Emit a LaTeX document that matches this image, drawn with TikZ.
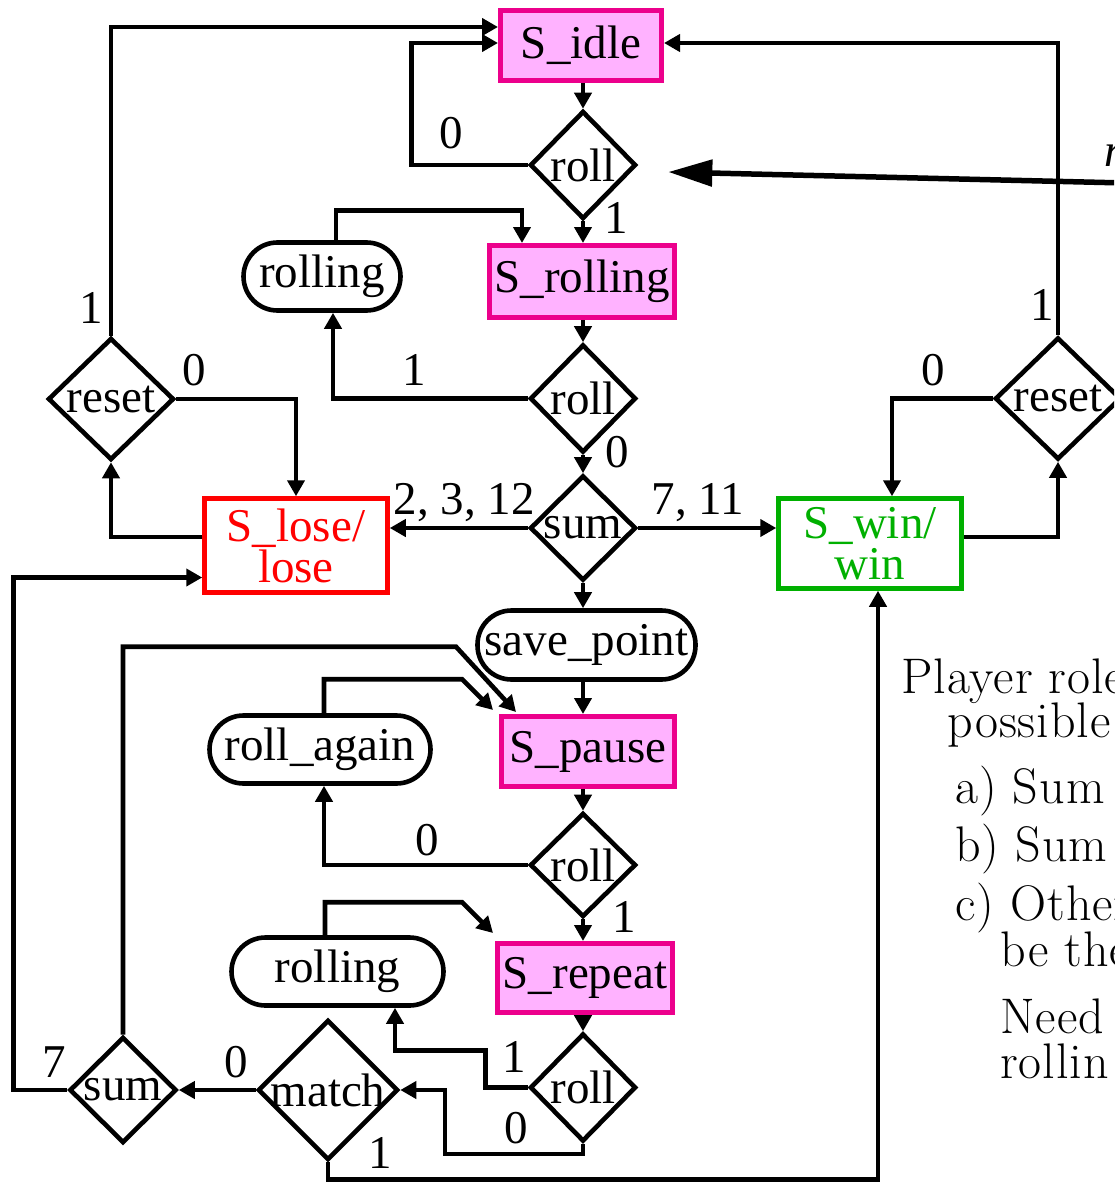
\documentclass[tikz,border=0pt]{standalone}
\usepackage{fontspec}
\setmainfont{Liberation Serif}
\newfontfamily\palfont[LetterSpace=2]{Latin Modern Roman}
\usetikzlibrary{arrows.meta,shapes.geometric,calc}
\definecolor{sgreen}{RGB}{0,176,0}
\definecolor{spink}{RGB}{255,178,255}
\tikzset{
  arr/.style={-{Triangle[length=16pt,width=17pt]}, line width=4.6pt},
  sbox/.style={draw=magenta, fill=spink, line width=5pt, inner sep=0pt, text=black},
  dia/.style={diamond, draw, line width=4.6pt, inner sep=0pt, minimum width=106pt, minimum height=108pt},
  oval/.style={draw, rounded corners=34pt, line width=4.6pt, inner sep=0pt, minimum height=68pt},
  lbl/.style={inner sep=0pt},
  rtext/.style={inner sep=0pt, anchor=base west, font={\palfont\fontsize{50}{50}\selectfont}},
}
\begin{document}
\begin{tikzpicture}[x=1pt,y=-1pt,font={\fontsize{47}{41}\selectfont}]
\useasboundingbox (0,0) rectangle (1114,1185);
\clip (0,0) rectangle (1114,1185);
\fill[white] (0,0) rectangle (1114,1185);

% states and decisions
\node[sbox, minimum width=161pt, minimum height=70pt] (idle) at (581,45.5) {S\_idle};
\node[dia] (r1) at (583,165) {\makebox[0pt]{roll}};
\node[sbox, minimum width=185pt, minimum height=72pt] (srol) at (582,281.5) {S\_rolling};
\node[oval, minimum width=157pt] (ov1) at (322,276.5) {rolling};
\node[dia] (r2) at (583,398.5) {\makebox[0pt]{roll}};
\node[dia, minimum width=126pt, minimum height=122pt] (rl) at (111,399) {\makebox[0pt]{reset}};
\node[dia, minimum width=126pt, minimum height=122pt] (rr) at (1058,398.5) {\makebox[0pt]{reset}};
\node[dia, minimum height=105pt] (s1) at (583,528) {\raisebox{-7pt}{\makebox[0pt]{sum}}};
\node[draw=red, text=red, line width=4.5pt, inner sep=0pt, minimum width=183pt, minimum height=94pt, align=center] (lose) at (296,545.5) {S\_lose/\\lose};
\node[draw=sgreen, text=sgreen, line width=4.5pt, inner sep=0pt, minimum width=183pt, minimum height=90pt, align=center] (win) at (870,543.5) {S\_win/\\win};
\node[oval, minimum width=218pt, minimum height=69pt] (sp) at (586.5,645) {save\_point};
\node[sbox, minimum width=173pt, minimum height=70pt] (pause) at (588,751.5) {S\_pause};
\node[oval, minimum width=221pt] (ra) at (320,749.5) {roll\_again};
\node[dia, minimum height=104pt] (r3) at (583,865) {\makebox[0pt]{roll}};
\node[sbox, minimum width=175pt, minimum height=69pt] (rep) at (585,978) {S\_repeat};
\node[oval, minimum width=212pt] (ov2) at (337.5,971.5) {rolling};
\node[dia] (r4) at (583,1087.5) {\makebox[0pt]{roll}};
\node[dia, minimum width=140pt, minimum height=140pt] (m) at (328,1090) {\makebox[0pt]{match}};
\node[dia, minimum width=107pt, minimum height=106pt] (s2) at (123,1090) {\makebox[0pt]{sum}};

% connectors
\draw[arr] (idle.south -| r1.north) -- (r1.north);
\draw[arr] (r1.west) -- ++(-116,0) |- ([yshift=2.5pt]idle.west);
\draw[arr] (r1.south) -- (r1.south |- srol.north);
\draw[arr] ([xshift=14pt]ov1.north) -- ++(0,-30) -| ([xshift=-60pt]srol.north);
\draw[arr] (srol.south -| r2.north) -- (r2.north);
\draw[arr] (r2.west) -| ([xshift=11pt]ov1.south);
\draw[arr] (r2.south) -- (s1.north);
\draw[arr] (s1.west) -- (s1.west -| lose.east);
\draw[arr] (s1.east) -- (s1.east -| win.west);
\draw[arr] (s1.south) -- (s1.south |- sp.north);
\draw[arr] (s1.south |- sp.south) -- (s1.south |- pause.north);
\draw[arr] (s1.south |- pause.south) -- (r3.north);
\draw[arr] (r3.west) -| ([xshift=4pt]ra.south);
\draw[arr] (r3.south) -- (r3.south |- rep.north);
\draw[arr] (r3.south |- rep.south) -- (r4.north);
\draw[arr] ([xshift=4pt]ra.north) -- ++(0,-34) -- ++(138,0) -- ([xshift=-6pt,yshift=4pt]pause.north west);
\draw[arr] (s2.north) -- ++(0,-388) -- ++(333,0) -- ([xshift=17pt,yshift=2pt]pause.north west);
\draw[arr] ([xshift=-12.5pt]ov2.north) -- ++(0,-33) -- ++(137,0) -- ([xshift=-2pt,yshift=8pt]rep.north west);
\draw[arr] (r4.west) -- ++(-42,0) -- ++(0,-37) -| ([xshift=57.5pt]ov2.south);
\draw[arr] (r4.south) -- ++(0,10) -- ++(-138,0) |- (m.east);
\draw[arr] (m.west) -- (s2.east);
\draw[arr] (m.south) -- ++(0,17) -| ([xshift=8pt]win.south);
\draw[arr] (s2.west) -- ++(-54,0) |- ([yshift=-32pt]lose.west);
\draw[arr] (rl.north) |- ([yshift=18.5pt]idle.west);
\draw[arr] (rl.east) -| (lose.north);
\draw[arr] ([yshift=8.5pt]lose.west) -| (rl.south);
\draw[arr] (rr.north) |- ([yshift=2.5pt]idle.east);
\draw[arr] (rr.west) -| ([xshift=22pt]win.north);
\draw[arr] ([yshift=6.5pt]win.east) -| (rr.south);

% incoming long arrow from the right
\coordinate (nin) at (1250,186);
\draw[line width=5.5pt, -{Triangle[length=44pt,width=26pt]}] (nin) -- ([shift={(30,7)}]r1.east);
\node[lbl, anchor=base west] (nlab) at (1104,167) {\textit{n}};

% labels
\node[lbl] (l1) at (451,133) {0};
\node[lbl] (l2) at (616,218) {1};
\node[lbl] (l3) at (414,370) {1};
\node[lbl] (l4) at (617,452) {0};
\node[lbl] (l5) at (464,503) {2, 3, 12};
\node[lbl] (l6) at (698,503) {7, 11};
\node[lbl] (l7) at (194,370) {0};
\node[lbl] (l8) at (91,308) {1};
\node[lbl] (l9) at (1042,305) {1};
\node[lbl] (l10) at (933,370) {0};
\node[lbl] (l11) at (427,840) {0};
\node[lbl] (l12) at (624,917) {1};
\node[lbl] (l13) at (514,1057) {1};
\node[lbl] (l14) at (516,1128) {0};
\node[lbl] (l15) at (236,1062) {0};
\node[lbl] (l16) at (54,1062) {7};
\node[lbl] (l17) at (380,1153) {1};

% side text (cut off at the right edge)
\node[rtext] (t1) at (901,693) {Player role};
\node[rtext] (t2) at (947,737) {possible};
\node[rtext] (t3) at (955,803) {a) Sum};
\node[rtext] (t4) at (955,861) {b) Sum};
\node[rtext] (t5) at (955,920) {c) Other};
\node[rtext] (t6) at (1000,966) {be the};
\node[rtext] (t7) at (1000,1033) {Need};
\node[rtext] (t8) at (1000,1078) {rollin};
\end{tikzpicture}
\end{document}
